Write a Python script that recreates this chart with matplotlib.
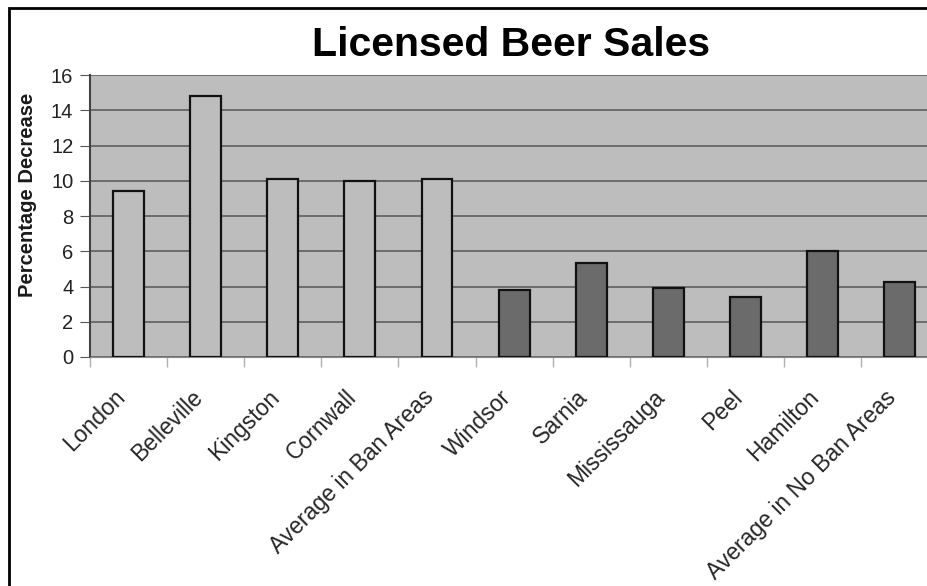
import matplotlib.pyplot as plt
import matplotlib.transforms as mtransforms
from matplotlib.patches import Rectangle

plt.rcParams['font.family'] = ['Liberation Sans', 'DejaVu Sans']

cities = ["London", "Belleville", "Kingston", "Cornwall", "Average in Ban Areas",
          "Windsor", "Sarnia", "Mississauga", "Peel", "Hamilton", "Average in No Ban Areas"]
decrease = [9.4, 14.8, 10.1, 10.0, 10.1, 3.8, 5.35, 3.9, 3.4, 6.0, 4.25]
ban_area = [True, True, True, True, True, False, False, False, False, False, False]

fig = plt.figure(figsize=(9.27, 5.86), dpi=100)
ax = fig.add_axes([0.0971, 0.3908, 0.915, 0.481])
ax.set_facecolor("#bdbdbd")

colors = ["#bdbdbd" if b else "#6b6b6b" for b in ban_area]
x = range(len(cities))
ax.bar(x, decrease, width=0.4, color=colors, edgecolor="#111111", linewidth=1.6, zorder=3)

ax.set_xlim(-0.5, len(cities) - 0.5)
ax.set_ylim(0, 16)
ax.set_yticks(range(0, 17, 2))
ax.yaxis.grid(True, color="#5f5f5f", linewidth=1.2, zorder=1)
ax.set_axisbelow(True)

# boundary ticks between categories, labels centred on the bars
ax.set_xticks([i - 0.5 for i in x])
ax.set_xticklabels([])
ax.set_xticks(list(x), minor=True)
ax.set_xticklabels(cities, minor=True, rotation=45, ha="right", rotation_mode="anchor",
                   fontsize=16.5, color="#262626")
ax.tick_params(axis="x", which="minor", length=0, pad=17)
ax.tick_params(axis="x", which="major", length=7, color="#b0b0b0", width=1)
ax.tick_params(axis="y", length=7, color="#555555", labelsize=14.5, pad=5, labelcolor="#222222")

# nudge rotated labels left/down a little
shift = mtransforms.ScaledTranslation(-0.15, -0.05, fig.dpi_scale_trans)
for lab in ax.get_xticklabels(minor=True):
    lab.set_transform(lab.get_transform() + shift)

for side in ["top", "right"]:
    ax.spines[side].set_visible(False)
ax.spines["left"].set_color("#444444")
ax.spines["left"].set_linewidth(1.5)
ax.spines["bottom"].set_color("#888888")

ax.set_ylabel("Percentage Decrease", fontsize=14.5, fontweight="bold", color="#1a1a1a")
ax.yaxis.set_label_coords(-0.062, 0.574)

fig.text(0.551, 0.923, "Licensed Beer Sales", ha="center", va="center",
         fontsize=29.5, fontweight="bold")

# outer chart frame (left and top edges visible in the crop)
fig.patches.append(Rectangle((9 / 927, -0.1), 1.2, 1 - 8 / 586 + 0.1, transform=fig.transFigure,
                             fill=False, edgecolor="black", linewidth=2))

fig.savefig("out.png", dpi=100)
